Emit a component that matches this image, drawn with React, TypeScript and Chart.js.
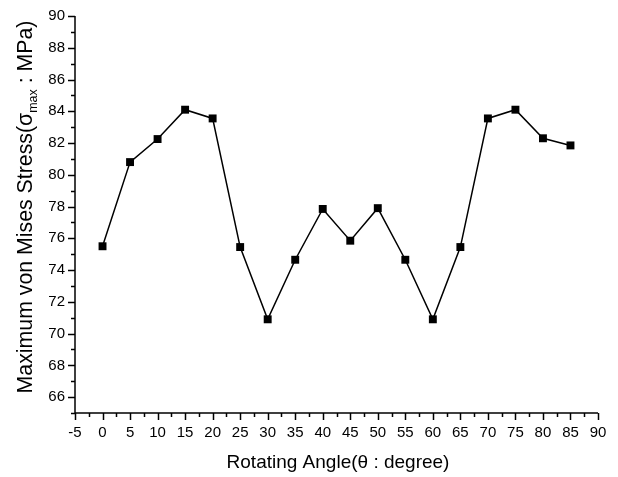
import React, { useEffect, useRef } from "react";
import { Chart, registerables } from "chart.js";

Chart.register(...registerables);

const angles = [0, 5, 10, 15, 20, 25, 30, 35, 40, 45, 50, 55, 60, 65, 70, 75, 80, 85];
const stress = [75.5, 80.8, 82.25, 84.1, 83.55, 75.45, 70.9, 74.65, 77.85, 75.85, 77.9, 74.65, 70.9, 75.45, 83.55, 84.1, 82.3, 81.85];
const xMajorTicks = [-5, 0, 5, 10, 15, 20, 25, 30, 35, 40, 45, 50, 55, 60, 65, 70, 75, 80, 85, 90];
const yMajorTicks = [66, 68, 70, 72, 74, 76, 78, 80, 82, 84, 86, 88, 90];
const xMinorTicks = [-2.5, 2.5, 7.5, 12.5, 17.5, 22.5, 27.5, 32.5, 37.5, 42.5, 47.5, 52.5, 57.5, 62.5, 67.5, 72.5, 77.5, 82.5, 87.5];
const yMinorTicks = [65, 67, 69, 71, 73, 75, 77, 79, 81, 83, 85, 87, 89];
const xTitle = "Rotating Angle(\u03b8 : degree)";
const yTitleMain = "Maximum von Mises Stress(\u03c3";
const yTitleSub = "max";
const yTitleEnd = " : MPa)";

const FONT = "'Liberation Sans', Arial, sans-serif";

const axisPlugin = {
  id: "axisDeco",
  afterDraw(chart: any) {
    const ctx = chart.ctx;
    const xs = chart.scales.x;
    const ys = chart.scales.y;
    const area = chart.chartArea;
    ctx.save();
    ctx.strokeStyle = "#000";
    ctx.lineWidth = 1.5;
    ctx.beginPath();
    ctx.moveTo(area.left, area.top);
    ctx.lineTo(area.left, area.bottom);
    ctx.lineTo(area.right, area.bottom);
    ctx.stroke();
    ctx.beginPath();
    for (const v of yMajorTicks) {
      const y = Math.round(ys.getPixelForValue(v)) + 0.5;
      ctx.moveTo(area.left - 7, y);
      ctx.lineTo(area.left, y);
    }
    for (const v of xMajorTicks) {
      const x = Math.round(xs.getPixelForValue(v)) + 0.5;
      ctx.moveTo(x, area.bottom);
      ctx.lineTo(x, area.bottom + 7);
    }
    ctx.stroke();
    ctx.beginPath();
    for (const v of yMinorTicks) {
      const y = Math.round(ys.getPixelForValue(v)) + 0.5;
      ctx.moveTo(area.left - 4, y);
      ctx.lineTo(area.left, y);
    }
    for (const v of xMinorTicks) {
      const x = Math.round(xs.getPixelForValue(v)) + 0.5;
      ctx.moveTo(x, area.bottom);
      ctx.lineTo(x, area.bottom + 4);
    }
    ctx.stroke();

    ctx.fillStyle = "#000";
    ctx.font = `19px ${FONT}`;
    ctx.textAlign = "center";
    ctx.textBaseline = "alphabetic";
    ctx.fillText(xTitle, 338, 468);

    const mainFont = `21.3px ${FONT}`;
    const subFont = `12.5px ${FONT}`;
    ctx.font = mainFont;
    const w1 = ctx.measureText(yTitleMain).width;
    const w3 = ctx.measureText(yTitleEnd).width;
    ctx.font = subFont;
    const w2 = ctx.measureText(yTitleSub).width;
    const total = w1 + w2 + w3;
    ctx.translate(32, 207);
    ctx.rotate(-Math.PI / 2);
    ctx.textAlign = "left";
    let x0 = -total / 2;
    ctx.font = mainFont;
    ctx.fillText(yTitleMain, x0, 0);
    x0 += w1;
    ctx.font = subFont;
    ctx.fillText(yTitleSub, x0, 5);
    x0 += w2;
    ctx.font = mainFont;
    ctx.fillText(yTitleEnd, x0, 0);
    ctx.restore();
  },
};

export default function App() {
  const ref = useRef<HTMLCanvasElement>(null);
  useEffect(() => {
    document.body.style.margin = "0";
    const chart = new Chart(ref.current!, {
      type: "line",
      data: {
        datasets: [
          {
            data: angles.map((a, i) => ({ x: a, y: stress[i] })),
            borderColor: "#000",
            backgroundColor: "#000",
            borderWidth: 1.5,
            pointStyle: "rect",
            pointRadius: 5.6,
            pointBorderWidth: 0,
            tension: 0,
          },
        ],
      },
      options: {
        animation: false,
        responsive: false,
        layout: { padding: { left: 0, right: 20, top: 16, bottom: 0 } },
        plugins: { legend: { display: false }, tooltip: { enabled: false } },
        scales: {
          x: {
            type: "linear",
            min: -5,
            max: 90,
            afterBuildTicks: (s: any) => {
              s.ticks = xMajorTicks.map((v) => ({ value: v }));
            },
            afterFit: (s: any) => {
              s.height = 64;
              s.paddingLeft = 0;
              s.paddingRight = 0;
            },
            grid: { display: false, drawTicks: false },
            border: { display: false },
            ticks: {
              color: "#000",
              font: { family: FONT, size: 15 },
              padding: 11,
              maxRotation: 0,
              autoSkip: false,
            },
          },
          y: {
            type: "linear",
            min: 65,
            max: 90,
            afterBuildTicks: (s: any) => {
              s.ticks = yMajorTicks.map((v) => ({ value: v }));
            },
            afterFit: (s: any) => {
              s.width = 75;
              s.paddingTop = 0;
              s.paddingBottom = 0;
            },
            grid: { display: false, drawTicks: false },
            border: { display: false },
            ticks: {
              color: "#000",
              font: { family: FONT, size: 15 },
              padding: 10,
              autoSkip: false,
            },
          },
        },
      },
      plugins: [axisPlugin],
    });
    return () => chart.destroy();
  }, []);
  return <canvas ref={ref} width={618} height={477} style={{ display: "block" }} />;
}
